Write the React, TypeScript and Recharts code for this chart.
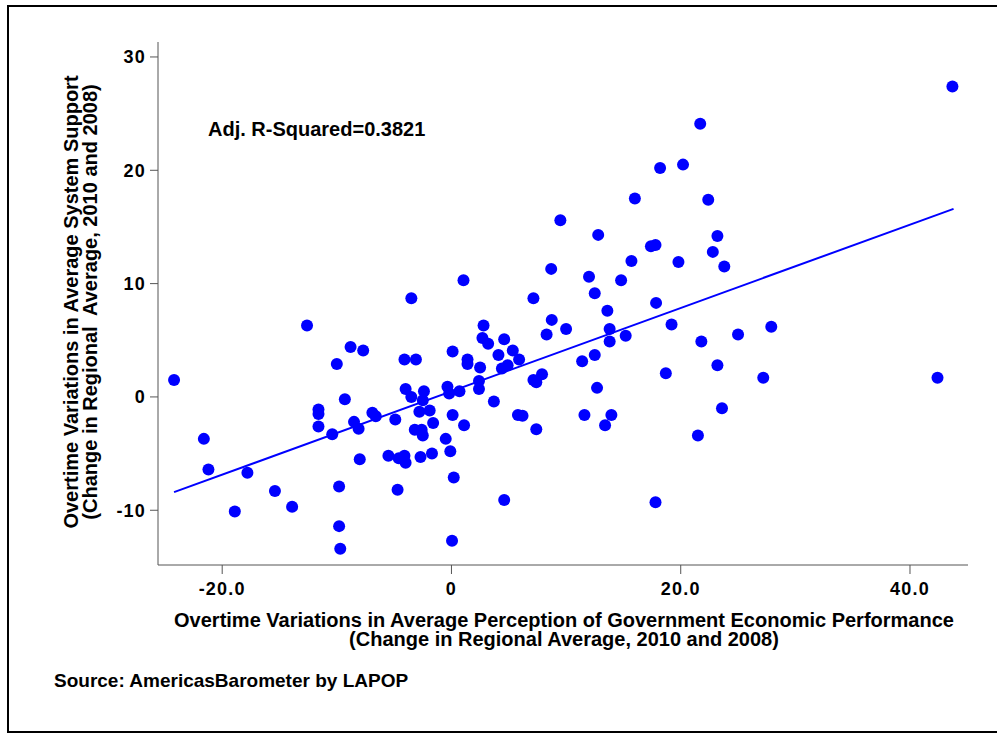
import { ScatterChart, Scatter, XAxis, YAxis } from "recharts";

// Perception of gov. economic performance change (x) vs system support change (y)
const perceptionChange = [
  -24.2, -21.6, -21.2, -18.9, -17.8, -15.4, -13.9, -12.6, -11.6, -11.6,
  -11.6, -10.4, -10.0, -9.8, -9.8, -9.7, -9.3, -8.8, -8.5, -8.1,
  -8.0, -7.7, -6.9, -6.6, -5.5, -4.9, -4.7, -4.6, -4.1, -4.1,
  -4.0, -4.0, -3.5, -3.5, -3.2, -3.1, -2.8, -2.7, -2.6, -2.5,
  -2.5, -2.4, -1.9, -1.7, -1.6, -0.5, -0.35, -0.2, -0.1, 0.05,
  0.1, 0.1, 0.2, 0.7, 1.05, 1.1, 1.4, 1.4, 2.4, 2.4,
  2.5, 2.8, 2.7, 3.2, 3.7, 4.1, 4.4, 4.6, 4.6, 4.9,
  5.35, 5.8, 5.9, 6.2, 7.15, 7.15, 7.4, 7.4, 7.9, 8.3,
  8.7, 8.75, 9.5, 10.0, 11.4, 11.6, 12.0, 12.5, 12.5, 12.7,
  12.8, 13.4, 13.6, 13.8, 13.8, 13.95, 14.8, 15.2, 15.7, 16.0,
  17.4, 17.8, 17.85, 17.8, 18.2, 18.7, 19.2, 19.8, 20.2, 21.5,
  21.7, 21.8, 22.4, 22.8, 23.2, 23.2, 23.6, 23.8, 25.0, 27.2,
  27.9, 42.4, 43.7,
];

const supportChange = [
  1.5, -3.7, -6.4, -10.1, -6.7, -8.3, -9.7, 6.3, -1.1, -1.5,
  -2.6, -3.3, 2.9, -7.9, -11.4, -13.4, -0.2, 4.4, -2.2, -2.8,
  -5.5, 4.1, -1.4, -1.7, -5.2, -2.0, -8.2, -5.4, 3.3, -5.2,
  0.7, -5.8, 8.7, 0.0, -2.9, 3.3, -1.3, -5.3, -2.9, -0.3,
  -3.4, 0.5, -1.2, -5.0, -2.3, -3.7, 0.9, 0.3, -4.8, -12.7,
  4.0, -1.6, -7.1, 0.5, 10.3, -2.5, 3.3, 2.9, 1.4, 0.7,
  2.6, 6.3, 5.2, 4.7, -0.4, 3.7, 2.5, 5.1, -9.1, 2.8,
  4.1, -1.6, 3.3, -1.65, 8.7, 1.5, 1.3, -2.85, 2.0, 5.5,
  11.3, 6.8, 15.6, 6.0, 3.15, -1.6, 10.6, 9.15, 3.7, 0.8,
  14.3, -2.5, 7.6, 6.0, 4.9, -1.6, 10.3, 5.4, 12.0, 17.5,
  13.3, 13.4, 8.3, -9.3, 20.2, 2.1, 6.4, 11.9, 20.5, -3.4,
  24.1, 4.9, 17.4, 12.8, 14.2, 2.8, -1.0, 11.5, 5.5, 1.7,
  6.2, 1.7, 27.4,
];

// fitted regression line endpoints
const fitX = [-24.2, 43.8];
const fitY = [-8.4, 16.6];

const xTicks = [-20, 0, 20, 40];
const yTicks = [-10, 0, 10, 20, 30];

const points = perceptionChange.map((x, i) => ({ x, y: supportChange[i] }));
const fitLine = fitX.map((x, i) => ({ x, y: fitY[i] }));

const FONT = '"Liberation Sans", Arial, sans-serif';
const AXIS = "#555";

const Dot = (props: any) => <circle cx={props.cx} cy={props.cy} r={6} fill="#0000ff" />;

const textStyle: React.CSSProperties = {
  position: "absolute",
  fontFamily: FONT,
  fontWeight: "bold",
  fontSize: 20,
  color: "#000",
  whiteSpace: "pre",
  lineHeight: "19px",
};

export default function App() {
  return (
    <div
      style={{
        position: "absolute",
        left: 0,
        top: 0,
        width: 997,
        height: 735,
        overflow: "hidden",
        background: "#fff",
      }}
    >
      <div
        style={{
          position: "absolute",
          left: 7,
          top: 5,
          width: 1000,
          height: 728,
          border: "2px solid #000",
          boxSizing: "border-box",
        }}
      />
      <div style={{ position: "absolute", left: 0, top: 0 }}>
        <ScatterChart
          width={997}
          height={735}
          margin={{ top: 42, right: 29, left: 98, bottom: 140 }}
        >
          <XAxis
            type="number"
            dataKey="x"
            domain={[-25.6, 45.06]}
            ticks={xTicks}
            tickFormatter={(v: number) => (v === 0 ? "0" : v.toFixed(1))}
            height={30}
            tickSize={9}
            tickMargin={8}
            axisLine={{ stroke: AXIS }}
            tickLine={{ stroke: AXIS }}
            tick={{ fill: "#000", fontSize: 18, fontWeight: "bold", fontFamily: FONT, letterSpacing: 1.2 }}
            allowDataOverflow
          />
          <YAxis
            type="number"
            dataKey="y"
            domain={[-14.83, 31.32]}
            ticks={yTicks}
            width={60}
            tickSize={8}
            tickMargin={4}
            axisLine={{ stroke: AXIS }}
            tickLine={{ stroke: AXIS }}
            tick={{ fill: "#000", fontSize: 18, fontWeight: "bold", fontFamily: FONT, letterSpacing: 1.2 }}
            allowDataOverflow
          />
          <Scatter
            data={fitLine}
            line={{ stroke: "#0000ff", strokeWidth: 2 }}
            shape={() => <g />}
            isAnimationActive={false}
          />
          <Scatter data={points} shape={Dot} isAnimationActive={false} />
        </ScatterChart>
      </div>
      <div style={{ ...textStyle, left: 208, top: 120 }}>Adj. R-Squared=0.3821</div>
      <div
        style={{
          ...textStyle,
          left: 164,
          top: 611,
          width: 800,
          textAlign: "center",
        }}
      >
        {"Overtime Variations in Average Perception of Government Economic Performance\n(Change in Regional Average, 2010 and 2008)"}
      </div>
      <div
        style={{
          ...textStyle,
          left: 81 - 250,
          top: 302 - 19,
          width: 500,
          textAlign: "center",
          transform: "rotate(-90deg)",
          transformOrigin: "250px 19px",
        }}
      >
        {"Overtime Variations in Average System Support\n(Change in Regional  Average, 2010 and 2008)"}
      </div>
      <div style={{ ...textStyle, fontSize: 19, left: 54, top: 671 }}>
        Source: AmericasBarometer by LAPOP
      </div>
    </div>
  );
}
